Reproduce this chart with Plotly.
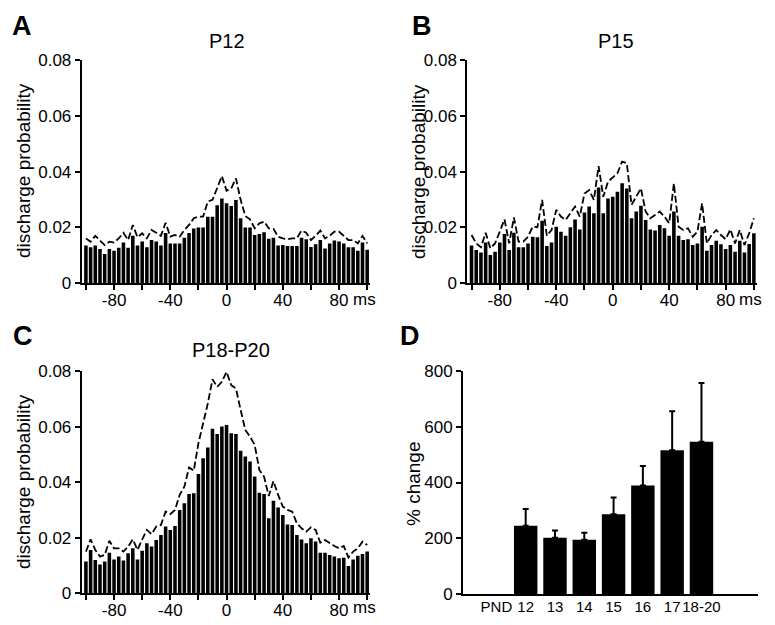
import plotly.graph_objects as go

# ---------------- data ----------------
BIN_MS = 10 / 3.0
FIRST_BIN_MS = -100.0
N_BINS = 61
bin_centers_ms = [FIRST_BIN_MS + i * BIN_MS for i in range(N_BINS)]

# discharge probability (x 1e-3)
p12_bars = [13.5,12.9,13.5,12.3,10.5,12.3,11.7,12.7,14.6,12.7,
            17.0,13.5,15.0,12.9,15.5,15.0,13.5,18.0,14.3,14.3,
            14.3,16.3,18.0,19.6,20.0,20.0,23.8,23.8,28.0,30.4,
            28.7,27.7,29.8,23.3,20.0,20.0,17.3,17.7,18.3,16.0,
            16.3,13.5,13.7,13.4,13.4,13.4,16.3,15.8,13.0,14.0,
            15.5,12.5,14.3,15.3,15.0,14.3,12.9,12.9,11.7,14.6,
            12.0]
p12_limit = [16.1,14.9,17.0,15.3,13.7,14.9,14.6,16.1,18.1,15.5,
             20.9,16.5,17.9,16.1,19.1,18.1,17.0,21.7,16.7,17.3,
             16.7,19.1,20.9,23.3,23.9,23.9,29.3,29.9,34.0,38.4,
             33.2,34.0,37.6,29.9,24.1,22.9,19.7,21.5,22.1,19.7,
             19.5,16.7,16.1,15.8,16.1,16.1,18.9,18.1,15.5,17.0,
             18.9,16.1,17.0,18.5,18.5,17.0,15.5,15.5,14.3,17.0,
             14.3]
p15_bars = [13.5,11.9,11.0,14.6,10.1,11.3,14.6,17.7,11.9,18.1,
            12.9,12.9,14.3,16.7,16.5,22.4,13.4,14.6,20.3,18.5,
            17.0,20.1,22.9,19.3,25.4,27.5,25.1,34.3,25.1,30.4,
            31.0,32.8,35.8,34.0,23.3,25.7,27.8,22.7,19.3,18.9,
            20.9,19.7,17.0,25.7,17.0,15.5,15.8,13.7,14.3,20.3,
            11.7,13.7,15.2,14.0,12.3,13.7,11.3,15.2,11.0,14.1,
            17.9]
p15_limit = [17.3,14.3,12.9,18.1,12.5,14.3,18.5,22.9,14.3,23.6,
             14.9,14.9,16.7,20.3,20.1,29.9,17.0,19.1,26.3,23.9,
             22.7,25.1,27.5,23.9,32.2,33.4,29.9,42.0,31.0,36.4,
             38.0,39.4,43.6,43.0,28.1,31.0,34.0,25.7,23.3,24.5,
             25.7,23.9,21.5,35.8,20.3,19.1,19.7,16.7,18.5,28.7,
             14.3,17.3,19.1,17.3,15.8,19.3,14.3,19.1,13.7,17.9,
             23.3]
p18_bars = [11.4,15.6,12.0,10.4,11.4,14.6,12.2,13.2,11.8,14.4,
            16.2,12.2,15.3,18.0,16.8,19.2,21.0,24.0,22.8,24.2,
            30.0,32.4,35.7,36.0,42.9,48.6,52.5,59.2,57.3,60.0,
            60.6,57.6,57.3,51.3,49.2,47.4,42.0,36.2,35.7,27.0,
            33.3,30.9,28.2,24.8,24.6,21.0,19.4,18.0,19.8,18.6,
            14.6,14.6,13.8,13.2,12.6,12.8,9.8,12.2,13.5,14.1,
            15.0]
p18_limit = [15.0,19.4,15.6,13.2,13.8,18.9,16.2,16.2,15.0,16.8,
             19.4,15.6,19.4,22.8,21.3,24.0,24.6,29.4,28.5,30.0,
             35.4,38.4,45.3,44.1,54.0,60.6,68.3,77.0,74.3,76.1,
             79.7,74.9,73.7,66.0,58.8,56.4,53.4,44.4,42.0,35.0,
             40.4,35.4,31.2,30.0,29.4,25.2,23.4,22.2,23.7,22.8,
             18.2,19.2,18.0,17.0,16.2,17.0,12.9,15.0,16.2,18.6,
             17.4]
SCALE = 1e-3

# panel D
pnd_categories = ["PND", "12", "13", "14", "15", "16", "17", "18-20"]
pct_change = [None, 245, 202, 195, 286, 389, 516, 546]
pct_sem = [None, 60, 26, 25, 60, 70, 140, 211]

prob_tickvals = [0, 0.02, 0.04, 0.06, 0.08]
prob_ticktext = ["0", "0.02", "0.04", "0.06", "0.08"]
ms_tickvals = [-100, -80, -60, -40, -20, 0, 20, 40, 60, 80, 100]
ms_ticktext = ["", "-80", "", "-40", "", "0", "", "40", "", "80", ""]
pct_tickvals = [0, 200, 400, 600, 800]

# ---------------- figure ----------------
# page body has an 8px margin; size figure so it fills the 775x625 window
BODY = 8
W, H = 775 - BODY, 625 - BODY
FONT = "Liberation Sans, Arial, Helvetica, sans-serif"

def px_x(p):
    return (p - BODY) / W

def px_y(p):
    return 1 - (p - BODY) / H

fig = go.Figure()

panels = [("x", "y", p12_bars, p12_limit),
          ("x2", "y2", p15_bars, p15_limit),
          ("x3", "y3", p18_bars, p18_limit)]
for xa, ya, bars, lim in panels:
    fig.add_trace(go.Bar(x=bin_centers_ms, y=[v * SCALE for v in bars],
                         width=BIN_MS * 0.76, marker=dict(color="black", line=dict(width=0)),
                         xaxis=xa, yaxis=ya, showlegend=False))
    fig.add_trace(go.Scatter(x=bin_centers_ms, y=[v * SCALE for v in lim], mode="lines",
                             line=dict(color="black", width=1.8, dash="7px,3px"),
                             xaxis=xa, yaxis=ya, showlegend=False))

fig.add_trace(go.Bar(x=pnd_categories, y=pct_change, width=0.8,
                     marker=dict(color="black", line=dict(width=0)),
                     error_y=dict(type="data", symmetric=False, array=pct_sem,
                                  arrayminus=[0] * len(pct_sem), color="black",
                                  thickness=2, width=3),
                     xaxis="x4", yaxis="y4", showlegend=False))

axis_common = dict(showline=True, linecolor="black", linewidth=2, showgrid=False,
                   zeroline=False, ticks="outside", ticklen=5, tickwidth=2,
                   tickcolor="black", automargin=False,
                   tickfont=dict(family=FONT, size=17, color="black"))

dom_x_left = [px_x(81.7), px_x(370)]
dom_x_right = [px_x(467.3), px_x(756.7)]
dom_y_top = [px_y(283.3), px_y(60)]
dom_y_bot = [px_y(593.3), px_y(371)]

def ms_axis(domain, anchor):
    return dict(axis_common, domain=domain, anchor=anchor, range=[-103, 102],
                tickmode="array", tickvals=ms_tickvals, ticktext=ms_ticktext,
                tickangle=0, ticklabelstandoff=-5)

def prob_axis(domain, anchor):
    return dict(axis_common, domain=domain, anchor=anchor, range=[0, 0.08],
                tickmode="array", tickvals=prob_tickvals, ticktext=prob_ticktext)

fig.update_layout(
    width=W, height=H,
    margin=dict(l=0, r=0, t=0, b=0, autoexpand=False),
    paper_bgcolor="white", plot_bgcolor="white",
    font=dict(family=FONT, color="black"),
    showlegend=False,
    xaxis=ms_axis(dom_x_left, "y"),
    yaxis=prob_axis(dom_y_top, "x"),
    xaxis2=ms_axis(dom_x_right, "y2"),
    yaxis2=prob_axis(dom_y_top, "x2"),
    xaxis3=ms_axis(dom_x_left, "y3"),
    yaxis3=prob_axis(dom_y_bot, "x3"),
    xaxis4=dict(axis_common, domain=[px_x(463), px_x(758)], anchor="y4",
                type="category", categoryorder="array", categoryarray=pnd_categories,
                range=[-1.14, 8.93], ticks="", ticklen=0, tickangle=0,
                ticklabelstandoff=-2,
                tickfont=dict(family=FONT, size=15, color="black")),
    yaxis4=dict(axis_common, domain=[px_y(594), px_y(371)], anchor="x4",
                range=[0, 800], tickmode="array", tickvals=pct_tickvals),
)

annotations = []
# panel letters
for txt, x, y in [("A", 22, 26), ("B", 422, 26), ("C", 23, 336), ("D", 410, 336)]:
    annotations.append(dict(text="<b>%s</b>" % txt, x=px_x(x), y=px_y(y), xref="paper", yref="paper",
                            showarrow=False, font=dict(family=FONT, size=27, color="black"),
                            xanchor="center", yanchor="middle"))
# titles
for txt, x, y in [("P12", 227, 41), ("P15", 616, 41), ("P18-P20", 231, 350)]:
    annotations.append(dict(text=txt, x=px_x(x), y=px_y(y), xref="paper", yref="paper",
                            showarrow=False, font=dict(family=FONT, size=20, color="black"),
                            xanchor="center", yanchor="middle"))
# y titles
for txt, x, y in [("discharge probability", 23, 171), ("discharge probability", 418, 171),
                  ("discharge probability", 23, 482), ("% change", 413, 484)]:
    annotations.append(dict(text=txt, x=px_x(x), y=px_y(y), xref="paper", yref="paper",
                            showarrow=False, textangle=-90,
                            font=dict(family=FONT, size=19, color="black"),
                            xanchor="center", yanchor="middle"))
# "ms" unit next to the 80 tick label
for xr, y in [("x", 299), ("x2", 299), ("x3", 607)]:
    annotations.append(dict(text="ms", x=80, y=px_y(y), xref=xr, yref="paper", xshift=25,
                            showarrow=False, font=dict(family=FONT, size=17, color="black"),
                            xanchor="center", yanchor="middle"))
fig.update_layout(annotations=annotations)

fig.write_html("out.html")
